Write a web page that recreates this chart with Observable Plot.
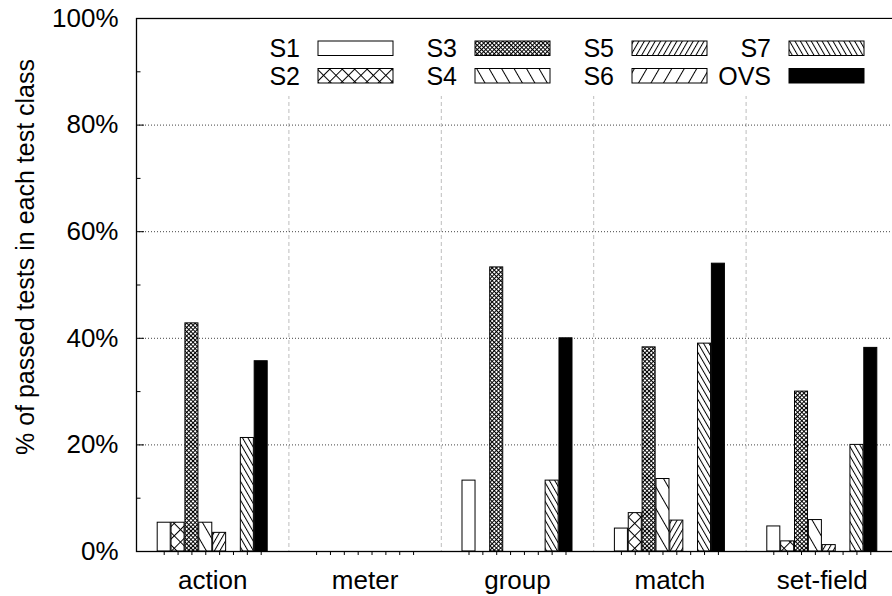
<!DOCTYPE html>
<html>
<head>
<meta charset="utf-8">
<script src="https://cdn.jsdelivr.net/npm/d3@7"></script>
<script src="https://cdn.jsdelivr.net/npm/@observablehq/plot@0.6"></script>
<style>
html, body { margin: 0; padding: 0; background: #fff; overflow: hidden; }
#chart { width: 892px; height: 596px; }
</style>
</head>
<body>
<div id="chart"></div>
<script>
// ---------- data ----------
const categories = ["action", "meter", "group", "match", "set-field"];
const seriesNames = ["S1", "S2", "S3", "S4", "S5", "S6", "S7", "OVS"];
const S1  = [5.4, 0, 13.3,  4.3,  4.7];
const S2  = [5.4, 0,  0.0,  7.2,  1.9];
const S3  = [42.8, 0, 53.3, 38.3, 30.0];
const S4  = [5.4, 0,  0.0, 13.6,  5.9];
const S5  = [3.5, 0,  0.0,  5.8,  1.2];
const S6  = [0.0, 0,  0.0,  0.0,  0.0];
const S7  = [21.3, 0, 13.3, 39.0, 20.0];
const OVS = [35.7, 0, 40.0, 54.0, 38.2];
const yTicks = [0, 20, 40, 60, 80, 100];
const yMinorTicks = [10, 30, 50, 70, 90];
const yGrid = [20, 40, 60, 80];
const yTitle = "% of passed tests in each test class";

// ---------- layout ----------
const W = 892, H = 596;
const mL = 136, mT = 18, mB = 45, mR = -6;
const slotsPerGroup = 11;           // 8 bars + gap
const barHalf = 0.47;
const nSlots = categories.length * slotsPerGroup;
const pxPerUnit = (W - mL - mR) / nSlots;
const FONT = "'Liberation Sans', Arial, Helvetica, sans-serif";
const FS_AXIS = 26, FS_TITLE = 25, FS_KEY = 25;

const seriesValues = [S1, S2, S3, S4, S5, S6, S7, OVS];
const firstOffset = (slotsPerGroup - seriesNames.length) / 2 + 0.5;
const rows = [];
categories.forEach((c, g) => {
  seriesNames.forEach((s, i) => {
    rows.push({category: c, series: s, value: seriesValues[i][g],
               pos: g * slotsPerGroup + firstOffset + i});
  });
});
const groupCenters = categories.map((c, g) => g * slotsPerGroup + slotsPerGroup / 2);
const groupBounds = categories.slice(1).map((c, g) => (g + 1) * slotsPerGroup);
const barCenters = rows.map(r => r.pos);

// patterns (style)
const patterns = {
  S2: {d: 8.8, angle: 45, cross: true},
  S3: {d: 3.0, angle: 45, cross: true},
  S4: {d: 10.8, angle: -30},
  S5: {d: 4.7, angle: 30},
  S6: {d: 10.8, angle: 30},
  S7: {d: 4.7, angle: -30}
};
const fillOf = s => s === "S1" ? "white" : s === "OVS" ? "black" : `url(#pat-${s})`;

const barMarks = seriesNames.map(s =>
  Plot.rect(rows.filter(r => r.series === s), {
    x1: r => r.pos - barHalf, x2: r => r.pos + barHalf,
    y1: 0, y2: "value",
    fill: fillOf(s), stroke: "black", strokeWidth: 1
  })
);

const chart = Plot.plot({
  width: W, height: H,
  marginLeft: mL, marginTop: mT, marginBottom: mB, marginRight: mR,
  style: {fontFamily: FONT, fontSize: FS_AXIS + "px", background: "white", color: "black"},
  x: {domain: [0, nSlots], axis: null},
  y: {domain: [0, 100], axis: null},
  marks: [
    Plot.ruleX(groupBounds, {stroke: "#bdbdbd", strokeDasharray: "4,3", strokeWidth: 1}),
    Plot.ruleY(yGrid, {stroke: "#444", strokeDasharray: "1,2", strokeWidth: 1}),
    Plot.ruleY(yGrid, {x1: 0, x2: 8 / pxPerUnit, stroke: "black"}),
    Plot.ruleY(yMinorTicks, {x1: 0, x2: 4.5 / pxPerUnit, stroke: "black"}),
    ...barMarks,
    Plot.frame({stroke: "black", strokeWidth: 1.3}),
    Plot.axisY({ticks: yTicks, tickFormat: d => `${d}%`, tickSize: 0, tickPadding: 18,
                fontSize: FS_AXIS, label: null}),
    Plot.axisX({ticks: barCenters, tickFormat: () => "", tickSize: 4, label: null}),
    Plot.axisX({ticks: groupCenters, tickSize: 0, tickPadding: 19, fontSize: FS_AXIS, label: null,
                tickFormat: d => categories[groupCenters.indexOf(d)]}),
    Plot.text([yTitle], {frameAnchor: "left", rotate: -90, dx: -111, dy: -28,
                         fontSize: FS_TITLE, textAnchor: "middle", fill: "black"})
  ]
});
document.getElementById("chart").appendChild(chart);

// ---------- pattern defs ----------
const svg = d3.select(chart);
const defs = svg.insert("defs", ":first-child");
Object.entries(patterns).forEach(([s, p]) => {
  const pat = defs.append("pattern")
    .attr("id", `pat-${s}`)
    .attr("patternUnits", "userSpaceOnUse")
    .attr("width", p.d).attr("height", p.d)
    .attr("patternTransform", `rotate(${p.angle})`);
  pat.append("rect").attr("width", p.d).attr("height", p.d).attr("fill", "white");
  pat.append("rect").attr("x", 0).attr("y", 0).attr("width", 1).attr("height", p.d).attr("fill", "black");
  if (p.cross) pat.append("rect").attr("x", 0).attr("y", 0).attr("width", p.d).attr("height", 1).attr("fill", "black");
});

// ---------- legend (inside plot, top) ----------
const legend = {x0: 318, y0: 41, colStep: 157, rowStep: 27.5, boxW: 75, boxH: 14.5, gap: 18};
const lg = svg.append("g");
lg.append("rect").attr("x", 250).attr("y", mT + 1).attr("width", W - 250).attr("height", 96 - mT - 1).attr("fill", "white");
seriesNames.forEach((s, k) => {
  const c = Math.floor(k / 2), r = k % 2;
  const bx = legend.x0 + c * legend.colStep, by = legend.y0 + r * legend.rowStep;
  lg.append("rect").attr("x", bx).attr("y", by).attr("width", legend.boxW).attr("height", legend.boxH)
    .attr("fill", fillOf(s)).attr("stroke", "black").attr("stroke-width", 1);
  lg.append("text").attr("x", bx - legend.gap).attr("y", by + legend.boxH / 2).attr("dy", "0.36em")
    .attr("text-anchor", "end").attr("font-size", FS_KEY).attr("font-family", FONT).attr("fill", "black").text(s);
});
</script>
</body>
</html>
